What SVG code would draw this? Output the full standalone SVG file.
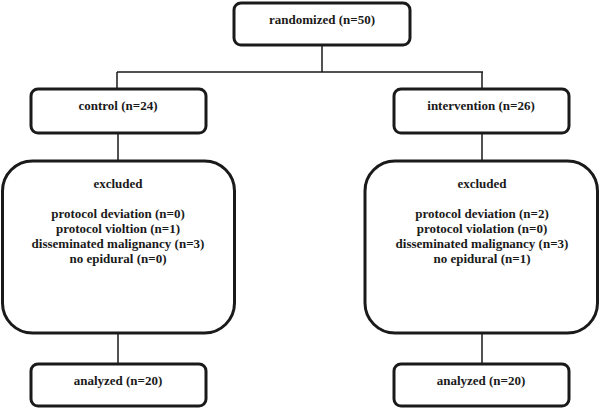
<svg xmlns="http://www.w3.org/2000/svg" width="600" height="409" viewBox="0 0 600 409">
<style>
.box{fill:#fff;stroke:#1a1a1a;stroke-width:3}
.t{font-family:"Liberation Serif",serif;font-weight:bold;font-size:13px;fill:#1a1a1a;text-anchor:middle}
.c{fill:none;stroke:#1a1a1a;stroke-width:1.5}
</style>
<rect width="600" height="409" fill="#fff"/>
<g id="connectors">
<path class="c" d="M322 45V72M117 72H483M117 72V88M482 72V88M118 133V160M482 133V160M118 333V363M482 333V363"/>
</g>
<g id="randomized">
<rect class="box" x="234" y="3" width="176" height="42" rx="7"/>
<text class="t" x="322" y="24">randomized (n=50)</text>
</g>
<g id="control">
<rect class="box" x="31" y="89" width="175" height="44" rx="7"/>
<text class="t" x="118" y="110">control (n=24)</text>
</g>
<g id="intervention">
<rect class="box" x="394" y="89" width="175" height="44" rx="7"/>
<text class="t" x="481" y="110">intervention (n=26)</text>
</g>
<g id="excluded-control">
<rect class="box" x="2.5" y="161" width="232" height="172" rx="30"/>
<text class="t" x="118" y="188">excluded</text>
<text class="t" x="118" y="218">protocol deviation (n=0)</text>
<text class="t" x="118" y="233">protocol violtion (n=1)</text>
<text class="t" x="118" y="248">disseminated malignancy (n=3)</text>
<text class="t" x="118" y="263">no epidural (n=0)</text>
</g>
<g id="excluded-intervention">
<rect class="box" x="365" y="161" width="232.5" height="172" rx="30"/>
<text class="t" x="482" y="188">excluded</text>
<text class="t" x="482" y="218">protocol deviation (n=2)</text>
<text class="t" x="482" y="233">protocol violation (n=0)</text>
<text class="t" x="482" y="248">disseminated malignancy (n=3)</text>
<text class="t" x="482" y="263">no epidural (n=1)</text>
</g>
<g id="analyzed-control">
<rect class="box" x="31" y="364" width="175" height="42" rx="7"/>
<text class="t" x="118" y="385">analyzed (n=20)</text>
</g>
<g id="analyzed-intervention">
<rect class="box" x="394" y="364" width="175" height="42" rx="7"/>
<text class="t" x="481" y="385">analyzed (n=20)</text>
</g>
</svg>
